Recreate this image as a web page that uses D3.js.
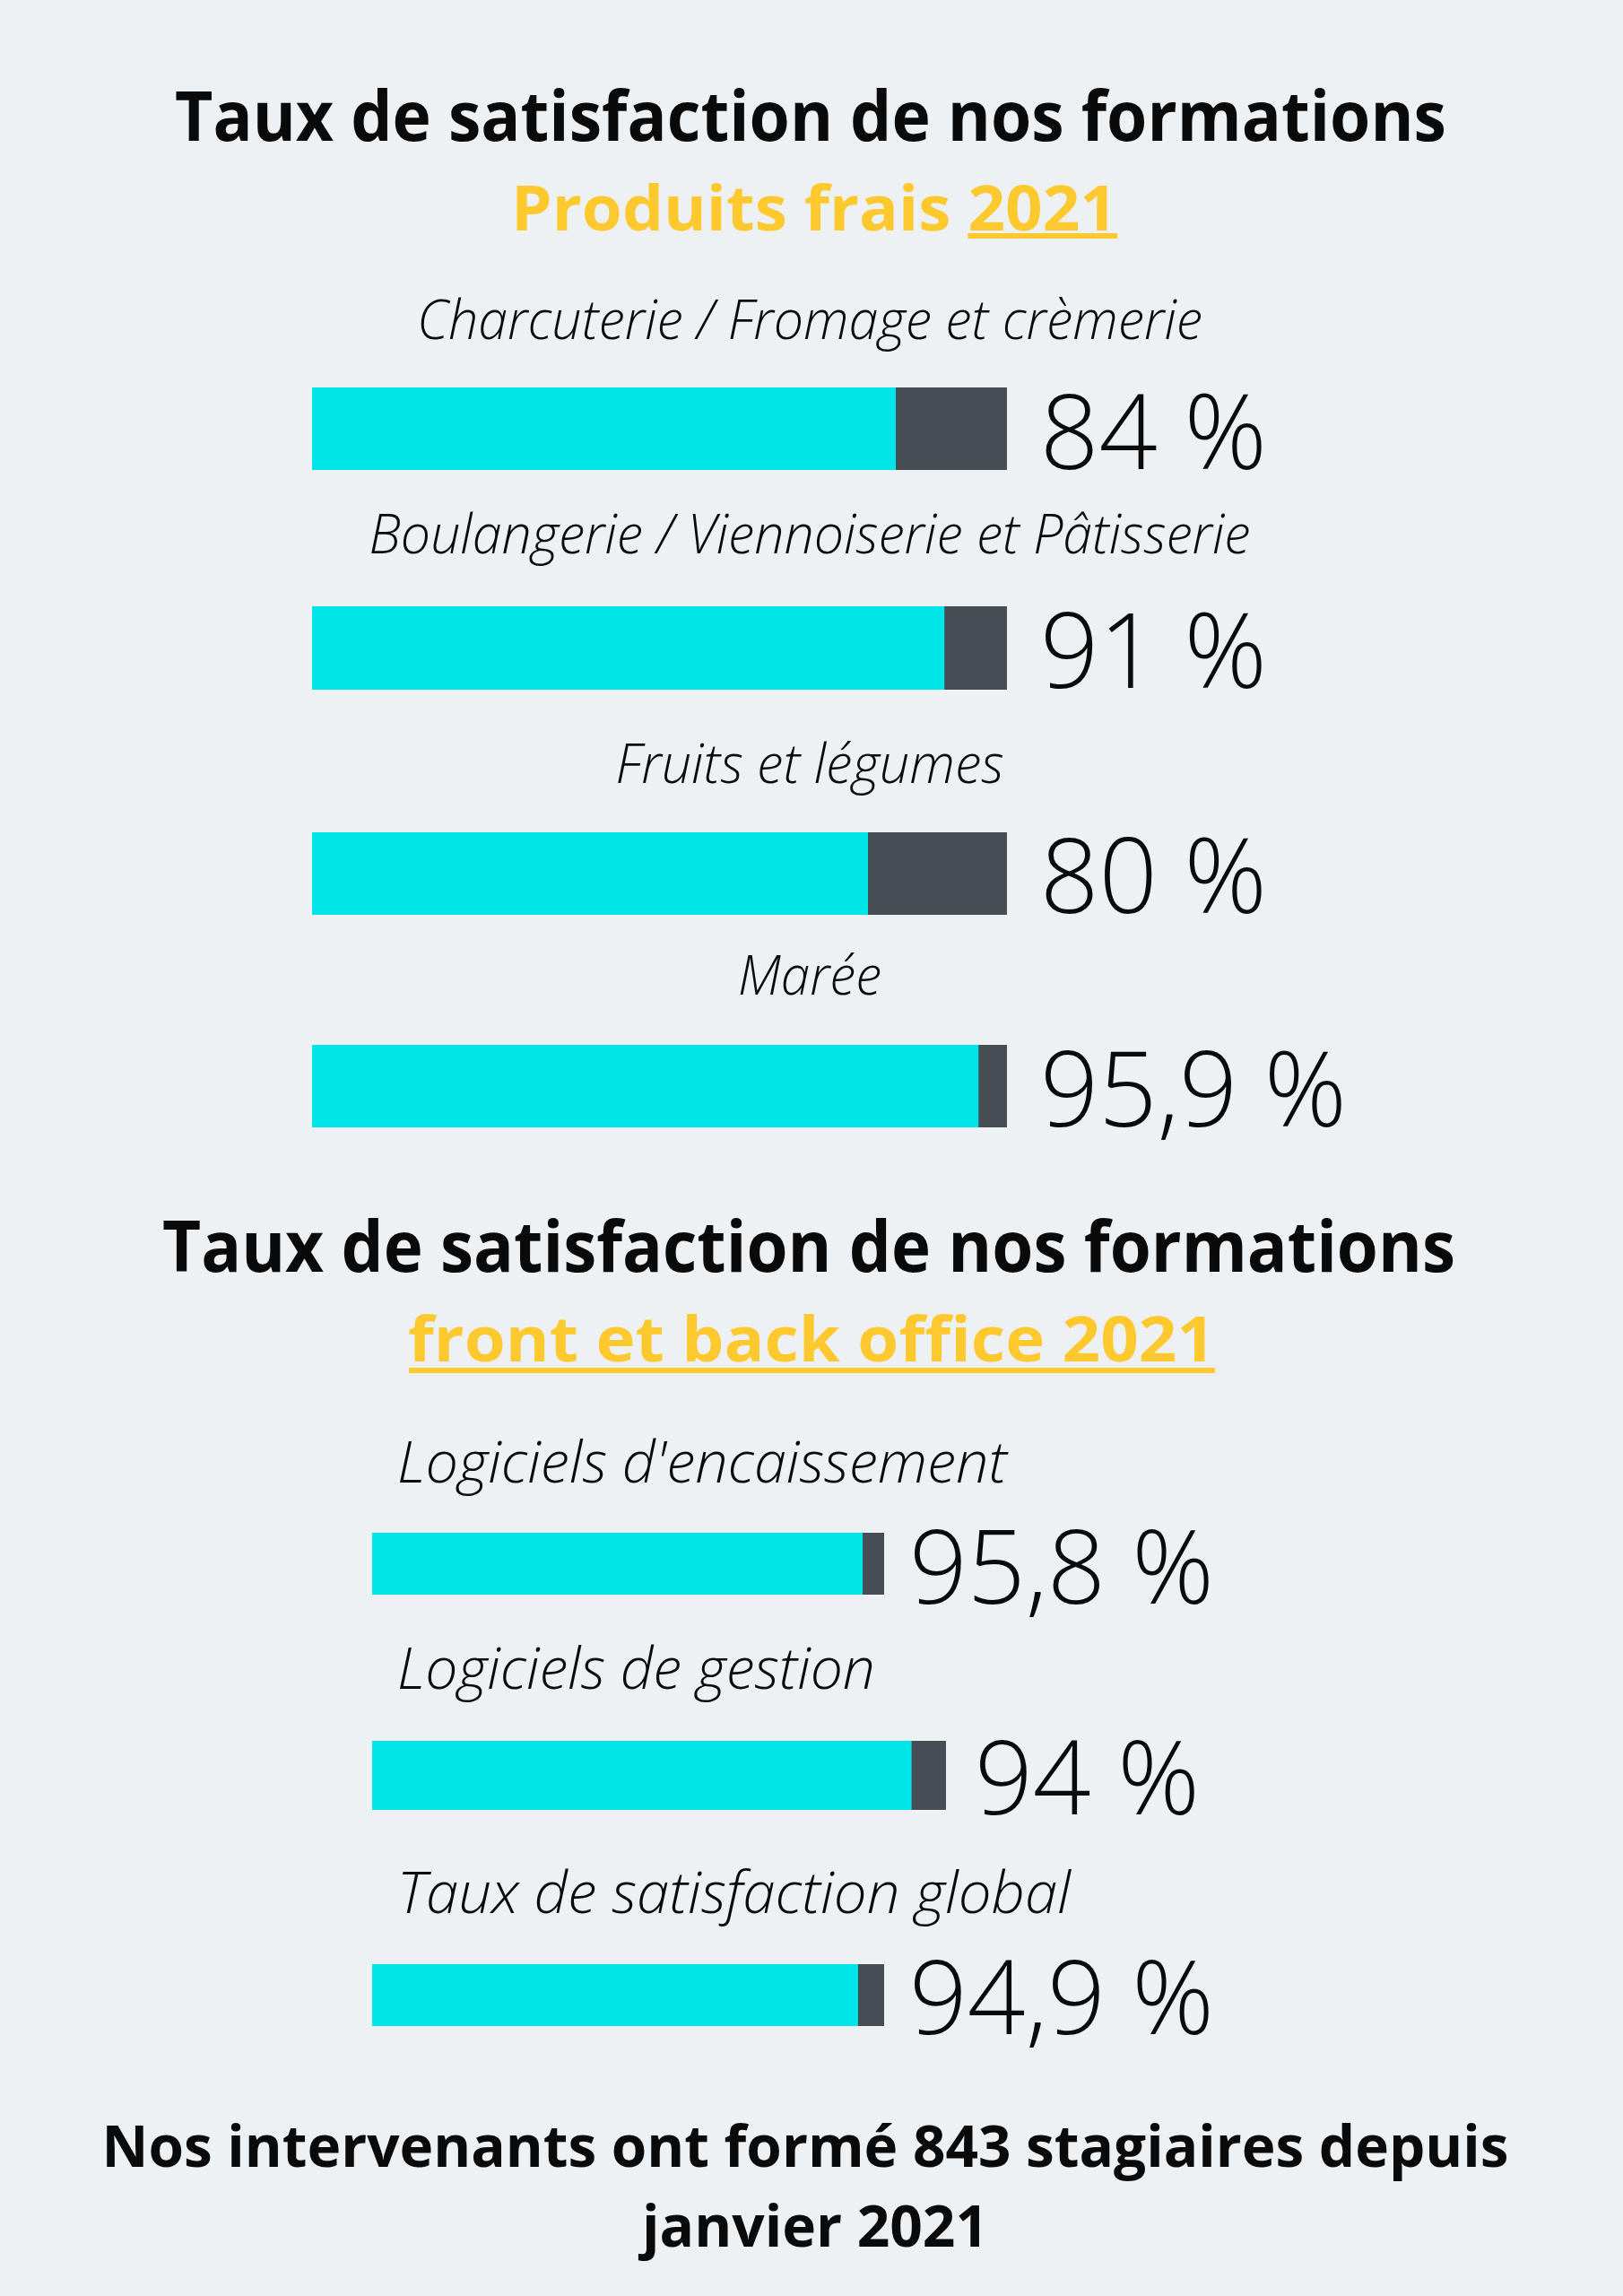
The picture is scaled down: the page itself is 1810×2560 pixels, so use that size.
<!DOCTYPE html>
<html><head><meta charset="utf-8">
<script src="https://cdn.jsdelivr.net/npm/d3@7"></script>
<style>html,body{margin:0;padding:0;background:#EDF1F4;} svg{display:block;}</style>
</head><body>
<svg id="chart" width="1810" height="2560"></svg>
<script>
// ---------- DATA ----------
const title1 = "Taux de satisfaction de nos formations";
const subtitle1 = ["Produits frais ", "2021"];
const title2 = "Taux de satisfaction de nos formations";
const subtitle2 = "front et back office 2021";
const group1Categories = ["Charcuterie / Fromage et crèmerie", "Boulangerie / Viennoiserie et Pâtisserie", "Fruits et légumes", "Marée"];
const group1Values = [84, 91, 80, 95.9];
const group2Categories = ["Logiciels d'encaissement", "Logiciels de gestion", "Taux de satisfaction global"];
const group2Values = [95.8, 94, 94.9];
const footerLines = ["Nos intervenants ont formé 843 stagiaires depuis", "janvier 2021"];
const valueDomain = [0, 100];

// ---------- STYLE / LAYOUT ----------
const W = 1810, H = 2560;
const C = { bg: "#EDF1F4", cyan: "#00E5E8", dark: "#464D55", yellow: "#FDC92E", text: "#0a0a0a" };
const FONT = "'Open Sans', 'Noto Sans', sans-serif";

const layout1 = [
  { labelY: 378, labelW: 876, barY: 432, barH: 92, valY: 523, valW: 253 },
  { labelY: 617, labelW: 983, barY: 676, barH: 93, valY: 767, valW: 253 },
  { labelY: 873, labelW: 433, barY: 928, barH: 92, valY: 1018, valW: 253 },
  { labelY: 1109, labelW: 160, barY: 1165, barH: 92, valY: 1256, valW: 342 }
];
const g1 = { x0: 348, track: 775, labelCx: 903, valX: 1160, labelSize: 60, valSize: 116 };

const layout2 = [
  { labelY: 1653, labelW: 680, barY: 1709, barH: 69, track: 571, valY: 1788, valW: 340, gap: 28 },
  { labelY: 1883, labelW: 533, barY: 1941, barH: 77, track: 640, valY: 2023, valW: 251, gap: 32 },
  { labelY: 2133, labelW: 751, barY: 2190, barH: 69, track: 571, valY: 2268, valW: 340, gap: 28 }
];
const g2 = { x0: 415, labelX: 443, labelSize: 64, valSize: 114 };

const fmt = v => String(v).replace(".", ",") + " %";

const svg = d3.select("#chart");
svg.append("rect").attr("width", W).attr("height", H).attr("fill", C.bg);

function fit(sel, w) {
  sel.attr("textLength", w).attr("lengthAdjust", "spacingAndGlyphs");
  return sel;
}

function boldText(txt, cx, y, size, w, color) {
  const t = svg.append("text")
    .attr("x", cx).attr("y", y)
    .attr("text-anchor", "middle")
    .attr("font-family", FONT).attr("font-weight", 700)
    .attr("font-size", size).attr("fill", color)
    .text(txt);
  return fit(t, w);
}

// Titles
boldText(title1, 904, 157, 77, 1418, C.text);

// Subtitle 1 with underlined year
const st1 = svg.append("text")
  .attr("x", 908).attr("y", 257).attr("text-anchor", "middle")
  .attr("font-family", FONT).attr("font-weight", 700)
  .attr("font-size", 70).attr("fill", C.yellow);
st1.selectAll("tspan").data(subtitle1).join("tspan").text(d => d);
fit(st1, 676);
{
  const node = st1.node();
  const start = subtitle1[0].length;
  const end = start + subtitle1[1].length - 1;
  const xs = node.getStartPositionOfChar(start).x;
  const xe = node.getEndPositionOfChar(end).x;
  svg.append("rect").attr("x", xs).attr("y", 260).attr("width", xe - xs).attr("height", 6).attr("fill", C.yellow);
}

boldText(title2, 902, 1418, 78, 1442, C.text);
boldText(subtitle2, 905, 1518, 70, 900, C.yellow);
svg.append("rect").attr("x", 456).attr("y", 1525).attr("width", 899).attr("height", 6).attr("fill", C.yellow);

// ---------- GROUP 1 ----------
const x1 = d3.scaleLinear().domain(valueDomain).range([g1.x0, g1.x0 + g1.track]);
const rows1 = group1Categories.map((c, i) => ({ cat: c, val: group1Values[i], L: layout1[i] }));

const gr1 = svg.append("g").selectAll("g").data(rows1).join("g");
gr1.append("text")
  .attr("x", g1.labelCx).attr("y", d => d.L.labelY)
  .attr("text-anchor", "middle")
  .attr("font-family", FONT).attr("font-weight", 300).attr("font-style", "italic")
  .attr("font-size", g1.labelSize).attr("fill", C.text)
  .text(d => d.cat)
  .attr("textLength", d => d.L.labelW).attr("lengthAdjust", "spacingAndGlyphs");
gr1.append("rect")
  .attr("x", x1(0)).attr("y", d => d.L.barY)
  .attr("width", x1(valueDomain[1]) - x1(0)).attr("height", d => d.L.barH)
  .attr("fill", C.dark);
gr1.append("rect")
  .attr("x", x1(0)).attr("y", d => d.L.barY)
  .attr("width", d => x1(d.val) - x1(0)).attr("height", d => d.L.barH)
  .attr("fill", C.cyan);
gr1.append("text")
  .attr("x", g1.valX).attr("y", d => d.L.valY)
  .attr("font-family", FONT).attr("font-weight", 300)
  .attr("font-size", g1.valSize).attr("fill", C.text)
  .text(d => fmt(d.val))
  .attr("textLength", d => d.L.valW).attr("lengthAdjust", "spacingAndGlyphs");

// ---------- GROUP 2 ----------
const rows2 = group2Categories.map((c, i) => {
  const L = layout2[i];
  const sc = d3.scaleLinear().domain(valueDomain).range([g2.x0, g2.x0 + L.track]);
  return { cat: c, val: group2Values[i], L, sc };
});
const gr2 = svg.append("g").selectAll("g").data(rows2).join("g");
gr2.append("text")
  .attr("x", g2.labelX).attr("y", d => d.L.labelY)
  .attr("font-family", FONT).attr("font-weight", 300).attr("font-style", "italic")
  .attr("font-size", g2.labelSize).attr("fill", C.text)
  .text(d => d.cat)
  .attr("textLength", d => d.L.labelW).attr("lengthAdjust", "spacingAndGlyphs");
gr2.append("rect")
  .attr("x", d => d.sc(0)).attr("y", d => d.L.barY)
  .attr("width", d => d.sc(valueDomain[1]) - d.sc(0)).attr("height", d => d.L.barH)
  .attr("fill", C.dark);
gr2.append("rect")
  .attr("x", d => d.sc(0)).attr("y", d => d.L.barY)
  .attr("width", d => d.sc(d.val) - d.sc(0)).attr("height", d => d.L.barH)
  .attr("fill", C.cyan);
gr2.append("text")
  .attr("x", d => d.sc(valueDomain[1]) + d.L.gap).attr("y", d => d.L.valY)
  .attr("font-family", FONT).attr("font-weight", 300)
  .attr("font-size", g2.valSize).attr("fill", C.text)
  .text(d => fmt(d.val))
  .attr("textLength", d => d.L.valW).attr("lengthAdjust", "spacingAndGlyphs");

// ---------- FOOTER ----------
boldText(footerLines[0], 898, 2416, 64, 1569, C.text);
boldText(footerLines[1], 909, 2505, 64, 386, C.text);
</script>
</body></html>
